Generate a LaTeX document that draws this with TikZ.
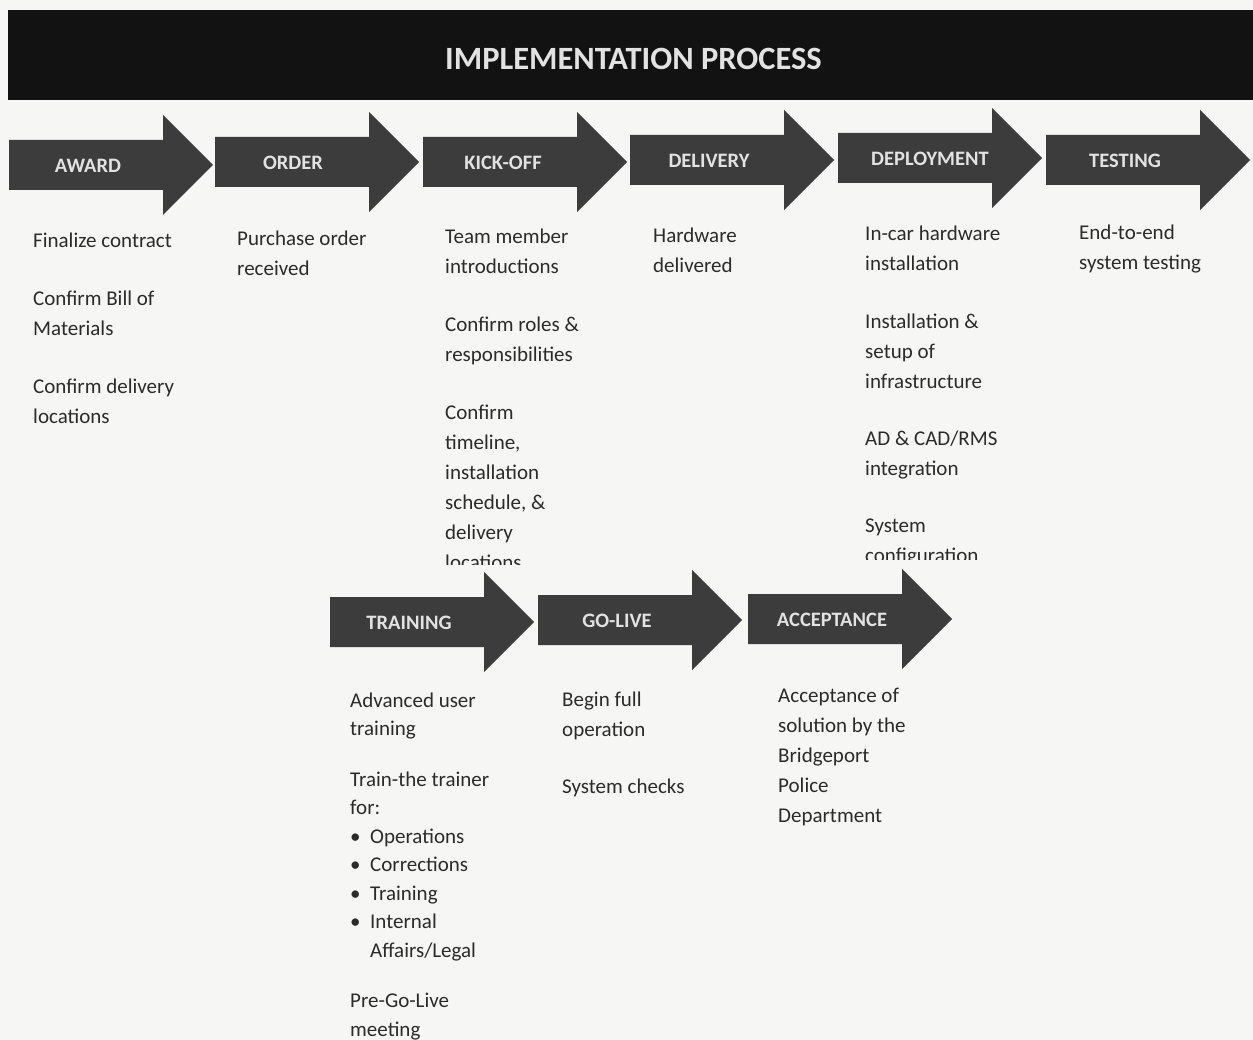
\documentclass[tikz,border=0pt]{standalone}
\usepackage{fontspec}
\setmainfont{Carlito}
\definecolor{bggray}{HTML}{F6F6F4}
\definecolor{headblack}{HTML}{121212}
\definecolor{arrowgray}{HTML}{3C3C3C}
\definecolor{labelwhite}{HTML}{E2E2E2}
\definecolor{txtgray}{HTML}{2B2B2B}
\tikzset{
  procarrow/.style={fill=arrowgray},
  steplabel/.style={text=labelwhite, inner sep=0, font=\bfseries\fontsize{20.5}{24}\selectfont},
  bodytext/.style={anchor=north west, inner sep=0, align=left, text=txtgray, font=\fontsize{21}{30}\selectfont},
  bodytight/.style={bodytext, font=\fontsize{21}{28.5}\selectfont},
}
% #1 name, #2 left x, #3 centre y, #4 label centre x, #5 label
\newcommand\procstep[5]{%
  \fill[procarrow] (#2,#3-25) -- (#2+154,#3-25) -- (#2+154,#3-50) -- (#2+204,#3)
    -- (#2+154,#3+50) -- (#2+154,#3+25) -- (#2,#3+25) -- cycle;
  \node[steplabel] (#1) at (#4,#3+1) {#5};}
\begin{document}
\begin{tikzpicture}[x=1pt,y=-1pt]
\fill[bggray] (0,0) rectangle (1253,1040);
\useasboundingbox (0,0) rectangle (1253,1040);
% header
\fill[headblack] (8,10) rectangle (1253,100);
\node[text=labelwhite, inner sep=0, font=\bfseries\fontsize{32.5}{36}\selectfont] (title) at (633.5,59) {IMPLEMENTATION PROCESS};
% first row arrows
\procstep{award}{9}{165}{88}{AWARD}
\procstep{order}{215}{162}{293}{ORDER}
\procstep{kickoff}{423}{162}{503}{KICK-OFF}
\procstep{delivery}{630}{160}{709}{DELIVERY}
\procstep{deployment}{838}{158}{930}{DEPLOYMENT}
\procstep{testing}{1046}{160}{1125}{TESTING}
% first row texts (clipped at bottom as in the original)
\node[bodytext] (awardtxt) at (33,226) {\strut Finalize contract\\[28pt]
  Confirm Bill of\\ Materials\\[28pt] Confirm delivery\\ locations};
\node[bodytext] (ordertxt) at (237,224) {\strut Purchase order\\ received};
\begin{scope}
\clip (400,100) rectangle (620,564);
\node[bodytext] (kickofftxt) at (445,222) {\strut Team member\\ introductions\\[28pt]
  Confirm roles \&\\ responsibilities\\[28pt] Confirm\\ timeline,\\ installation\\
  schedule, \&\\ delivery\\ locations};
\end{scope}
\node[bodytext] (deliverytxt) at (653,221) {\strut Hardware\\ delivered};
\begin{scope}
\clip (840,100) rectangle (1040,559);
\node[bodytext] (deploymenttxt) at (865,219) {\strut In-car hardware\\ installation\\[28pt]
  Installation \&\\ setup of\\ infrastructure\\[27pt] AD \& CAD/RMS\\ integration\\[27pt]
  System\\ configuration};
\end{scope}
\node[bodytext] (testingtxt) at (1079,218) {\strut End-to-end\\ system testing};
% second row arrows
\procstep{training}{330}{622}{409}{TRAINING}
\procstep{golive}{538}{620}{617}{GO-LIVE}
\procstep{acceptance}{748}{619}{832}{ACCEPTANCE}
% second row texts
\node[bodytight] (trainingtxt) at (350,687) {\strut Advanced user\\ training\\[22pt]
  Train-the trainer\\ for:\\
  \makebox[20pt][l]{•}Operations\\
  \makebox[20pt][l]{•}Corrections\\
  \makebox[20pt][l]{•}Training\\
  \makebox[20pt][l]{•}Internal\\
  \hspace*{20pt}Affairs/Legal\\[22pt]
  Pre-Go-Live\\ meeting};
\node[bodytext] (golivetxt) at (562,685) {\strut Begin full\\ operation\\[27pt] System checks};
\node[bodytext] (acceptancetxt) at (778,681) {\strut Acceptance of\\ solution by the\\ Bridgeport\\ Police\\ Department};
\end{tikzpicture}
\end{document}
